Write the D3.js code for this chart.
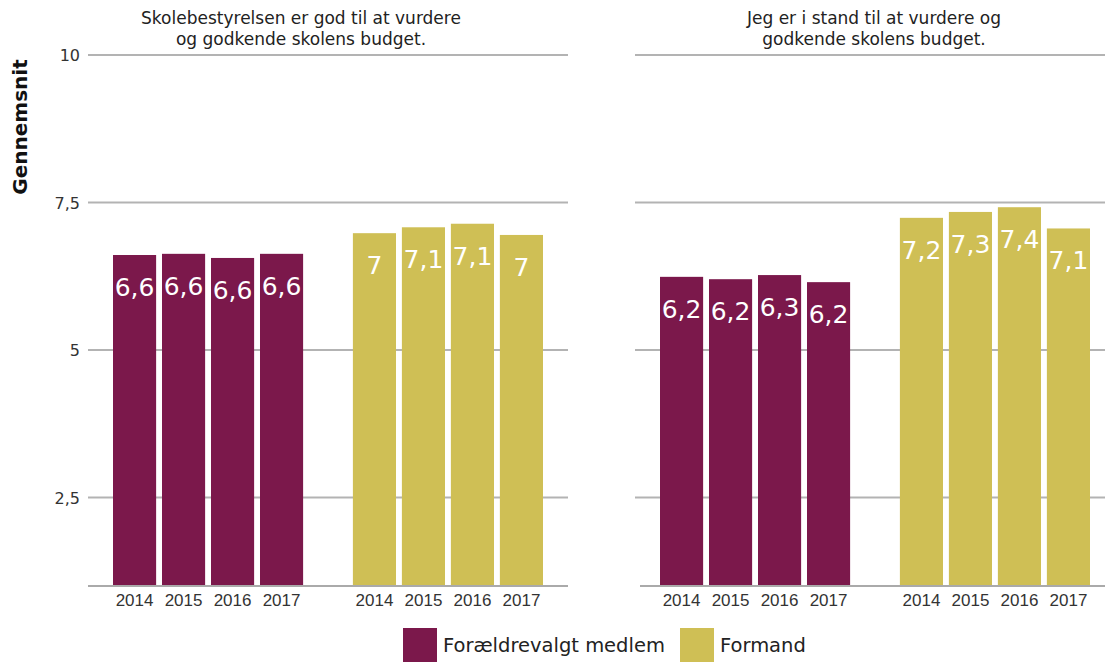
<!DOCTYPE html>
<html>
<head>
<meta charset="utf-8">
<script src="https://cdn.jsdelivr.net/npm/d3@7"></script>
<style>
  body { margin: 0; background: #fff; }
  svg { display: block; }
</style>
</head>
<body>
<script>
// Data
var years = ["2014", "2015", "2016", "2017"];
var groups = ["Forældrevalgt medlem", "Formand"];
var panelTitles = [
  ["Skolebestyrelsen er god til at vurdere", "og godkende skolens budget."],
  ["Jeg er i stand til at vurdere og", "godkende skolens budget."]
];
var panel1Medlem = [6.61, 6.63, 6.56, 6.63];
var panel1Formand = [6.98, 7.08, 7.14, 6.95];
var panel2Medlem = [6.24, 6.20, 6.27, 6.15];
var panel2Formand = [7.24, 7.34, 7.42, 7.06];
var yTicks = [2.5, 5, 7.5, 10];

var colors = ["#7b184b", "#cfbf55"];

var svgWidth = 1105;
var svgHeight = 664;

var svg = d3.select("body")
            .append("svg")
            .attr("width", svgWidth)
            .attr("height", svgHeight);

// shared y scale
var y = d3.scaleLinear()
          .domain([1, 10])
          .range([586, 55]);

var fmt = function(v) { return d3.format(".1f")(v).replace(".", ",").replace(",0", ""); };
var tickFmt = function(v) { return String(v).replace(".", ","); };

var panels = [
  { left: 88, titleX: 301, titles: panelTitles[0], series: [panel1Medlem, panel1Formand], axis: true, baseStart: 88 },
  { left: 635, titleX: 874, titles: panelTitles[1], series: [panel2Medlem, panel2Formand], axis: false, baseStart: 640 }
];

var panelWidth = 480;

panels.forEach(function(p) {
  var g = svg.append("g").attr("transform", "translate(" + p.left + ",0)");

  // outer band for the two groups, inner band for years
  var x0 = d3.scaleBand()
             .domain(groups)
             .range([0, panelWidth])
             .paddingInner(0.183)
             .paddingOuter(0.092);

  var x1 = d3.scaleBand()
             .domain(years)
             .range([0, x0.bandwidth()])
             .paddingInner(0.12)
             .paddingOuter(0.06);

  // gridlines
  g.selectAll("line.grid")
   .data(yTicks)
   .enter()
   .append("line")
   .attr("class", "grid")
   .attr("x1", 0)
   .attr("x2", panelWidth)
   .attr("y1", function(d) { return y(d); })
   .attr("y2", function(d) { return y(d); })
   .style("stroke", "#b3b3b3")
   .style("stroke-width", 2);

  // y tick labels only on the first panel
  if (p.axis) {
    g.selectAll("text.ytick")
     .data(yTicks)
     .enter()
     .append("text")
     .attr("class", "ytick")
     .attr("x", -8)
     .attr("y", function(d) { return y(d) + 6; })
     .attr("text-anchor", "end")
     .style("font-family", "DejaVu Sans")
     .style("font-size", "16px")
     .style("fill", "#333")
     .text(tickFmt);
  }

  // bars
  groups.forEach(function(grp, gi) {
    var gg = g.append("g").attr("transform", "translate(" + x0(grp) + ",0)");
    var vals = p.series[gi];

    gg.selectAll("rect")
      .data(vals)
      .enter()
      .append("rect")
      .attr("x", function(d, i) { return x1(years[i]); })
      .attr("y", function(d) { return y(d); })
      .attr("width", x1.bandwidth())
      .attr("height", function(d) { return y(1) - y(d); })
      .style("fill", colors[gi]);

    gg.selectAll("text.val")
      .data(vals)
      .enter()
      .append("text")
      .attr("class", "val")
      .attr("x", function(d, i) { return x1(years[i]) + x1.bandwidth() / 2; })
      .attr("y", function(d) { return y(d) + 41; })
      .attr("text-anchor", "middle")
      .style("font-family", "DejaVu Sans")
      .style("font-size", "25px")
      .style("fill", "#fff")
      .text(fmt);

    gg.selectAll("text.year")
      .data(years)
      .enter()
      .append("text")
      .attr("class", "year")
      .attr("x", function(d) { return x1(d) + x1.bandwidth() / 2; })
      .attr("y", 606)
      .attr("text-anchor", "middle")
      .style("font-family", "Liberation Sans")
      .style("font-size", "17px")
      .style("fill", "#333")
      .text(function(d) { return d; });
  });

  // baseline
  g.append("line")
   .attr("x1", p.baseStart - p.left)
   .attr("x2", panelWidth)
   .attr("y1", y(1))
   .attr("y2", y(1))
   .style("stroke", "#aaa")
   .style("stroke-width", 2);

  // panel title
  svg.append("text")
     .attr("x", p.titleX)
     .attr("y", 24)
     .attr("text-anchor", "middle")
     .style("font-family", "DejaVu Sans")
     .style("font-size", "17px")
     .style("fill", "#222")
     .selectAll("tspan")
     .data(p.titles)
     .enter()
     .append("tspan")
     .attr("x", p.titleX)
     .attr("dy", function(d, i) { return i === 0 ? 0 : 21; })
     .text(function(d) { return d; });
});

// y axis title
svg.append("text")
   .attr("transform", "translate(27,127) rotate(-90)")
   .attr("text-anchor", "middle")
   .style("font-family", "DejaVu Sans")
   .style("font-weight", "bold")
   .style("font-size", "20px")
   .style("fill", "#111")
   .text("Gennemsnit");

// legend
var legendItems = [
  { label: groups[0], color: colors[0], x: 403 },
  { label: groups[1], color: colors[1], x: 680 }
];

var legend = svg.selectAll("g.legend")
                .data(legendItems)
                .enter()
                .append("g")
                .attr("class", "legend")
                .attr("transform", function(d) { return "translate(" + d.x + ",628)"; });

legend.append("rect")
      .attr("width", 34)
      .attr("height", 34)
      .style("fill", function(d) { return d.color; });

legend.append("text")
      .attr("x", 40)
      .attr("y", 24)
      .style("font-family", "DejaVu Sans")
      .style("font-size", "19.5px")
      .style("fill", "#222")
      .text(function(d) { return d.label; });
</script>
</body>
</html>
